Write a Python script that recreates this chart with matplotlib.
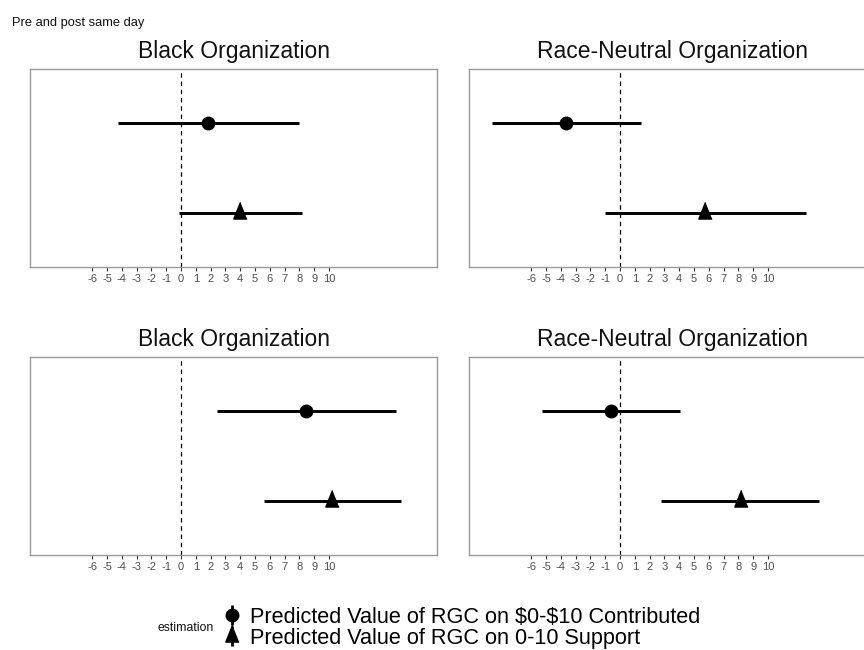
import matplotlib
matplotlib.use("Agg")
import matplotlib.pyplot as plt
from matplotlib.lines import Line2D
from matplotlib.legend_handler import HandlerTuple

plt.rcParams['font.family'] = ['Liberation Sans', 'DejaVu Sans']

# ---- data ----
panel_titles = ["Black Organization", "Race-Neutral Organization",
                "Black Organization", "Race-Neutral Organization"]
contrib_est = [1.84, -3.65, 8.47, -0.58]
contrib_lo = [-4.27, -8.65, 2.45, -5.27]
contrib_hi = [8.00, 1.40, 14.54, 4.08]
support_est = [4.02, 5.74, 10.20, 8.16]
support_lo = [-0.13, -1.03, 5.58, 2.80]
support_hi = [8.16, 12.57, 14.88, 13.47]
tick_values = list(range(-6, 11))
series_labels = ["Predicted Value of RGC on \\$0-\\$10 Contributed",
                 "Predicted Value of RGC on 0-10 Support"]
legend_title = "estimation"
suptitle = "Pre and post same day"

W, H = 864, 650
fig = plt.figure(figsize=(W / 100, H / 100), dpi=100)

# panel boxes in pixels: (left, top, right, bottom)
boxes = [(30, 69, 437, 267), (469, 69, 876, 267),
         (30, 357, 437, 555), (469, 357, 876, 555)]

tri = [(0, 2), (-1.2, -1), (1.2, -1)]
border_col = '#9a9a9a'

for i, (l, t, r, b) in enumerate(boxes):
    ax = fig.add_axes([l / W, 1 - b / H, (r - l) / W, (b - t) / H])
    ax.set_xlim(-10.2, 17.3)
    ax.set_ylim(0.4, 2.6)
    ax.axvline(0, color='black', lw=0.9, linestyle=(0, (3.6, 3.0)), zorder=1)
    # contributed (circle) at y=2
    ax.plot([contrib_lo[i], contrib_hi[i]], [2, 2], color='black', lw=2.1,
            solid_capstyle='butt', zorder=2)
    ax.plot([contrib_est[i]], [2], marker='o', color='black', markersize=9,
            linestyle='none', zorder=3)
    # support (triangle) at y=1
    ax.plot([support_lo[i], support_hi[i]], [1, 1], color='black', lw=2.1,
            solid_capstyle='butt', zorder=2)
    ax.plot([support_est[i]], [1], marker=tri, color='black', markersize=16,
            linestyle='none', zorder=3)

    ax.set_xticks(tick_values)
    ax.set_xticklabels([str(v) for v in tick_values])
    ax.tick_params(axis='x', length=3, width=0.8, color='#333333',
                   labelcolor='#4d4d4d', labelsize=8, pad=2)
    ax.set_yticks([])
    for s in ax.spines.values():
        s.set_color(border_col)
        s.set_linewidth(1.0)
    ax.set_title(panel_titles[i], fontsize=16.5, pad=8, color='#111111')

fig.text(12 / W, 1 - 26 / H, suptitle, fontsize=9.3, ha='left',
         va='baseline', color='#111111')

fig.text(214 / W, 1 - 628 / H, legend_title, fontsize=8.8, ha='right',
         va='center', color='#111111')

bar = Line2D([], [], marker='|', markersize=14, mew=2, color='black',
             linestyle='none')
h1 = (bar, Line2D([], [], marker='o', markersize=9, color='black',
                  linestyle='none'))
h2 = (bar, Line2D([], [], marker=tri, markersize=16, color='black',
                  linestyle='none'))
fig.legend([h1, h2], series_labels, loc='center left',
           bbox_to_anchor=(223 / W, 1 - 628 / H), frameon=False,
           handler_map={tuple: HandlerTuple(ndivide=1, pad=0)},
           handlelength=0.8, handletextpad=0.45, labelspacing=0.0,
           borderpad=0, borderaxespad=0, fontsize=15.6)

fig.savefig("out.png", dpi=100)
